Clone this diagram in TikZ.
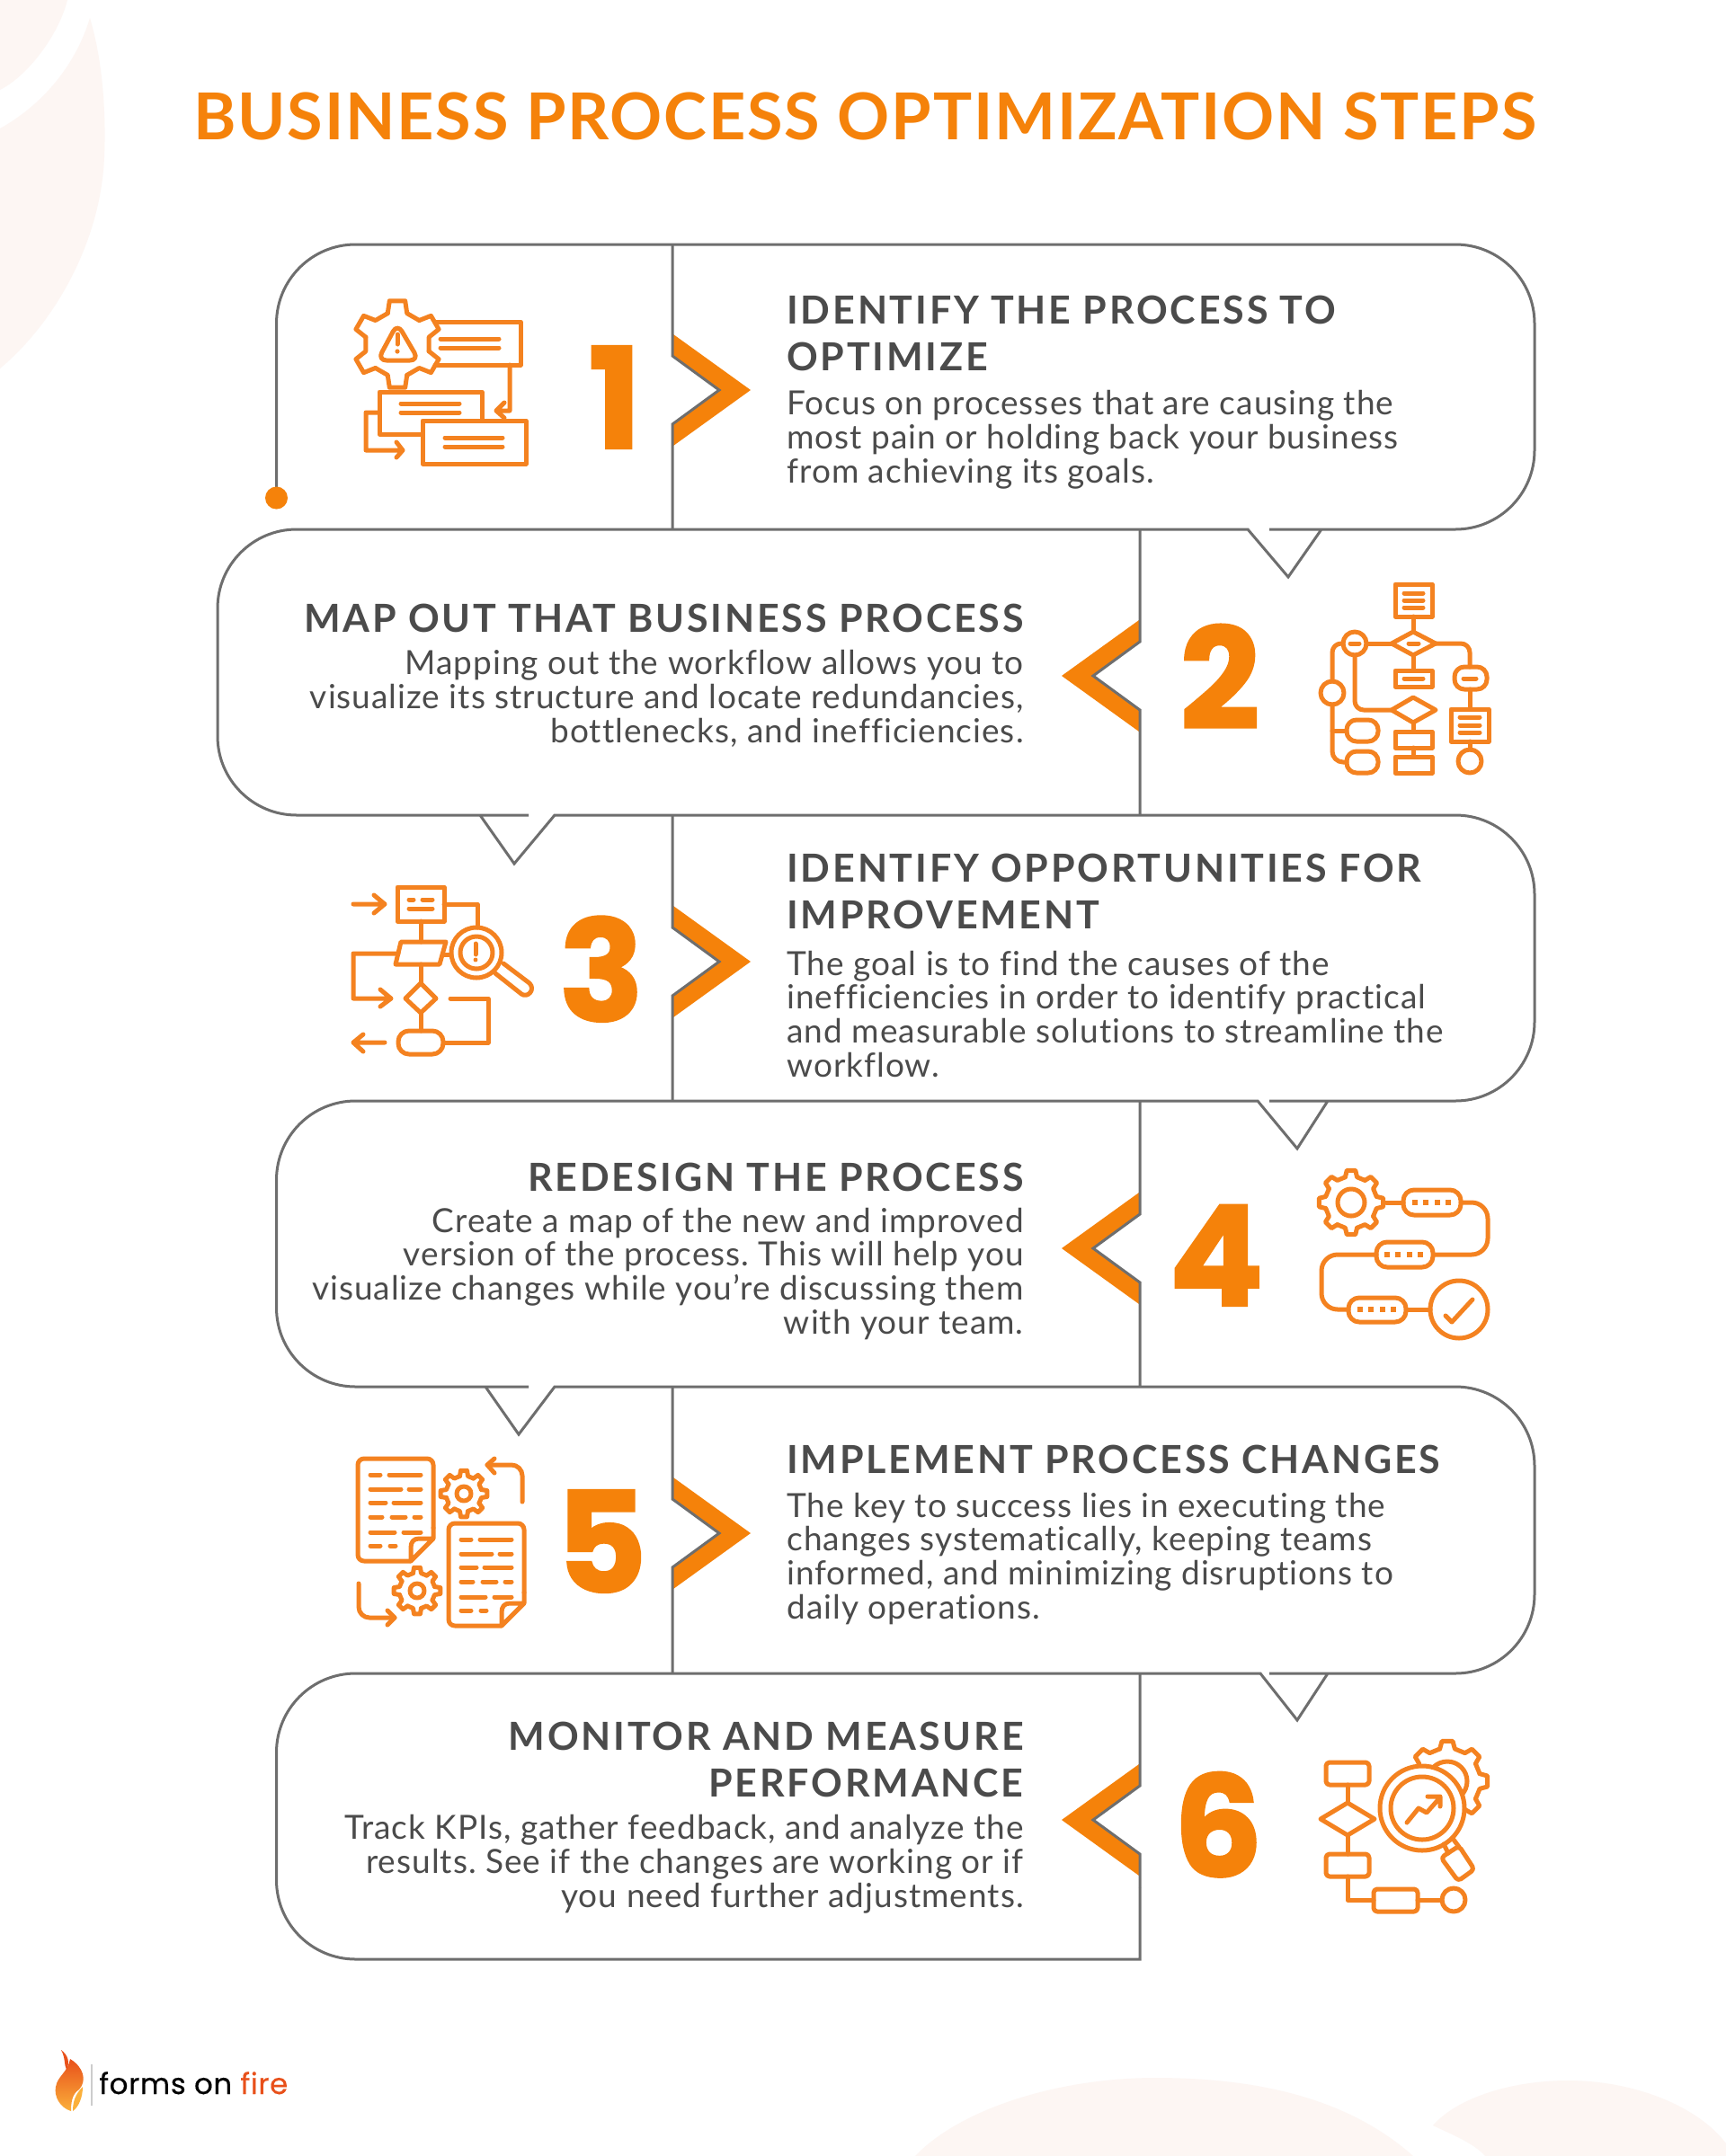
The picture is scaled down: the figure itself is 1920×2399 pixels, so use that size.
\documentclass[tikz,border=0pt]{standalone}
\usepackage{fontspec}
\setmainfont{Lato}
\newfontfamily\numfont[BoldFeatures={FakeBold=1.5}]{Poppins}
\newfontfamily\titlefont[LetterSpace=2.5]{Lato}
\newfontfamily\headfont[LetterSpace=6.5]{Lato}
\newfontfamily\bodyfont[LetterSpace=2.7,Ligatures=NoCommon]{Lato}
\newfontfamily\logofont[LetterSpace=2,FakeBold=.4]{Poppins}
\frenchspacing
\usetikzlibrary{calc}
\definecolor{LineClr}{HTML}{6E6E6E}
\definecolor{NumClr}{HTML}{F5820A}
\definecolor{IconClr}{HTML}{F48220}
\definecolor{TextClr}{HTML}{4B4B4B}
\definecolor{BlobClr}{HTML}{FDF6F3}
\definecolor{FlameRed}{HTML}{E8501A}
\definecolor{FlameGold}{HTML}{FBB03B}
\tikzset{
  icn/.style={draw=IconClr,line width=2.5pt,line join=round,line cap=round},
  titletext/.style={anchor=base west,inner sep=0pt,text=NumClr,font=\titlefont\bfseries\fontsize{36}{36}\selectfont},
  headL/.style={anchor=base west,align=left,inner sep=0pt,text=TextClr,font=\headfont\bfseries\fontsize{21.5}{26}\selectfont},
  headR/.style={anchor=base east,align=right,inner sep=0pt,text=TextClr,font=\headfont\bfseries\fontsize{21.5}{26}\selectfont},
  bodyL/.style={anchor=base west,align=left,inner sep=0pt,text=TextClr,font=\bodyfont\fontsize{18.5}{18.8}\selectfont},
  bodyR/.style={anchor=base east,align=right,inner sep=0pt,text=TextClr,font=\bodyfont\fontsize{18.5}{18.8}\selectfont},
  numtext/.style={anchor=base,inner sep=0pt,text=NumClr,font=\numfont\bfseries\fontsize{78}{78}\selectfont},
}
% chevrons, with the step's middle height as argument
\newcommand{\ChevRight}[1]{\fill[NumClr] (749,{#1-62}) -- (835,#1) -- (749,{#1+62}) -- (749,{#1+38}) -- (800,#1) -- (749,{#1-38}) -- cycle;}
\newcommand{\ChevLeft}[1]{\fill[NumClr] (1267,{#1-62}) -- (1181,#1) -- (1267,{#1+62}) -- (1267,{#1+38}) -- (1216,#1) -- (1267,{#1-38}) -- cycle;}
% centre x, centre y, outer radius, inner radius, teeth, start angle
\newcommand{\GearShape}[6]{%
  \foreach \i in {1,...,#5}{%
    \pgfmathsetmacro\angP{360/#5}
    \pgfmathsetmacro\angM{#6+\i*\angP}
    \pgfmathsetmacro\angA{\angM-.29*\angP}
    \pgfmathsetmacro\angB{\angM-.17*\angP}
    \pgfmathsetmacro\angC{\angM+.17*\angP}
    \pgfmathsetmacro\angD{\angM+.29*\angP}
    \pgfmathsetmacro\angE{\angM+.71*\angP}
    \draw[icn,shift={(#1,#2)}] (\angA:#4) -- (\angB:#3) -- (\angC:#3) -- (\angD:#4) -- (\angE:#4);
  }}
% four little squares on a line
\newcommand{\DotRow}[2]{\foreach \k in {0,1,2,3} \fill[IconClr] ({#1+12.3*\k-3},{#2-3}) rectangle ({#1+12.3*\k+3},{#2+3});}
% dog-eared page of icon 5, shifted from its first place
\newcommand{\PageDoc}[2]{%
  \begin{scope}[shift={(#1,#2)}]
    \draw[icn,rounded corners=3.5pt] (457,1737) -- (398,1737) -- (398,1623) -- (482,1623) -- (482,1700);
    \draw[icn] (482,1700) -- (482,1712) -- (457,1737) -- (457,1722) .. controls (457,1716) and (460,1712) .. (466,1712) -- (482,1712);
    \draw[icn] (412,1641) -- (423,1641) (433,1641) -- (468,1641);
    \draw[icn] (412,1657) -- (446,1657) (455,1657) -- (468,1657);
    \draw[icn] (412,1672) -- (429,1672) (438,1672) -- (468,1672);
    \draw[icn] (412,1688) -- (425,1688) (436,1688) -- (451,1688) (461,1688) -- (468,1688);
    \draw[icn] (412,1705) -- (439,1705) (449,1705) -- (468,1705);
    \draw[icn] (412,1720) -- (423,1720) (434,1720) -- (440,1720);
  \end{scope}}

\begin{document}
\begin{tikzpicture}[x=.5pt,y=-.5pt]
\useasboundingbox (0,0) rectangle (1920,2399);
\fill[white] (0,0) rectangle (1920,2399);

% background blobs
\fill[BlobClr] (0,0) -- (75,0) .. controls (65,40) and (30,85) .. (0,100) -- cycle;
\fill[BlobClr] (100,20) .. controls (115,70) and (118,130) .. (116,175) .. controls (112,270) and (60,360) .. (0,410) -- (0,143) .. controls (50,115) and (85,70) .. (100,20) -- cycle;
\fill[BlobClr] (1018,2399) .. controls (1070,2345) and (1180,2312) .. (1285,2312) .. controls (1400,2312) and (1500,2335) .. (1572,2399) -- cycle;
\fill[BlobClr] (1594,2365) .. controls (1620,2335) and (1680,2315) .. (1744,2315) .. controls (1820,2315) and (1890,2345) .. (1920,2385) -- (1920,2399) -- (1652,2399) .. controls (1640,2385) and (1615,2375) .. (1594,2365) -- cycle;

\node[titletext] (title) at (215,155) {BUSINESS PROCESS OPTIMIZATION STEPS};

% the line that runs through all six steps
\coordinate (start) at (307.5,554);
\draw[LineClr,line width=1.5pt,rounded corners=44pt] (start) -- (307.5,272) -- (1707,272) -- (1707,589) -- (1500,589)
  [sharp corners] -- (1470,589) -- (1433,642) -- (1388,589) -- (1300,589)
  [rounded corners=44pt] -- (242,589) -- (242,907) -- (500,907)
  [sharp corners] -- (534,907) -- (572,961) -- (617,907) -- (700,907)
  [rounded corners=44pt] -- (1707,907) -- (1707,1225) -- (1500,1225)
  [sharp corners] -- (1477,1225) -- (1443,1278) -- (1399,1225) -- (1300,1225)
  [rounded corners=44pt] -- (307.5,1225) -- (307.5,1543) -- (500,1543)
  [sharp corners] -- (540,1543) -- (577,1596) -- (617,1543) -- (700,1543)
  [rounded corners=44pt] -- (1707,1543) -- (1707,1862) -- (1500,1862)
  [sharp corners] -- (1477,1862) -- (1443,1914) -- (1402,1862) -- (1300,1862)
  [rounded corners=44pt] -- (307.5,1862) -- (307.5,2180) -- (800,2180) [sharp corners] -- (1268,2180) -- (1268,2100);
\fill[NumClr] (start) circle (12.5);

\ChevRight{434}
\ChevLeft{752}
\ChevRight{1070}
\ChevLeft{1389}
\ChevRight{1706}
\ChevLeft{2025}

% dividers, with the notch of each chevron
\draw[LineClr,line width=1.5pt] (748,272) -- (748,396) -- (800,434) -- (748,472) -- (748,589);
\draw[LineClr,line width=1.5pt] (1268,589) -- (1268,714) -- (1216,752) -- (1268,790) -- (1268,907);
\draw[LineClr,line width=1.5pt] (748,907) -- (748,1032) -- (800,1070) -- (748,1108) -- (748,1225);
\draw[LineClr,line width=1.5pt] (1268,1225) -- (1268,1351) -- (1216,1389) -- (1268,1427) -- (1268,1543);
\draw[LineClr,line width=1.5pt] (748,1543) -- (748,1668) -- (800,1706) -- (748,1744) -- (748,1862);
\draw[LineClr,line width=1.5pt] (1268,1862) -- (1268,1987) -- (1216,2025) -- (1268,2063) -- (1268,2100);

% numbers
\node[numtext] (n1) at (684,499) {1};
\node[numtext] (n2) at (1357,811) {2};
\node[numtext] (n3) at (669,1136) {3};
\node[numtext] (n4) at (1353,1453) {4};
\node[numtext] (n5) at (669,1772) {5};
\node[numtext] (n6) at (1355,2088) {6};

% texts
\node[headL] (h1) at (875,412) {IDENTIFY THE PROCESS TO\\OPTIMIZE};
\node[bodyL] (b1) at (875,537) {Focus on processes that are causing the\\most pain or holding back your business\\from achieving its goals.};
\node[headR] (h2) at (1139,703) {MAP OUT THAT BUSINESS PROCESS};
\node[bodyR] (b2) at (1139,826) {Mapping out the workflow allows you to\\visualize its structure and locate redundancies,\\bottlenecks, and inefficiencies.};
\node[headL] (h3) at (875,1033) {IDENTIFY OPPORTUNITIES FOR\\IMPROVEMENT};
\node[bodyL] (b3) at (875,1198) {The goal is to find the causes of the\\inefficiencies in order to identify practical\\and measurable solutions to streamline the\\workflow.};
\node[headR] (h4) at (1139,1325) {REDESIGN THE PROCESS};
\node[bodyR] (b4) at (1139,1484) {Create a map of the new and improved\\version of the process. This will help you\\visualize changes while you’re discussing them\\with your team.};
\node[headL] (h5) at (875,1639) {IMPLEMENT PROCESS CHANGES};
\node[bodyL] (b5) at (875,1801) {The key to success lies in executing the\\changes systematically, keeping teams\\informed, and minimizing disruptions to\\daily operations.};
\node[headR] (h6) at (1139,1999) {MONITOR AND MEASURE\\PERFORMANCE};
\node[bodyR] (b6) at (1139,2122) {Track KPIs, gather feedback, and analyze the\\results. See if the changes are working or if\\you need further adjustments.};

% icon 1
\GearShape{442}{383}{49}{36}{6}{90}
\draw[icn,rounded corners=5pt] (420,401) -- (466,401) -- (442,360) -- cycle;
\draw[icn] (442,372) -- (442,383);
\fill[IconClr] (442,391) circle (2.6);
\draw[icn] (484,358) -- (579,358) -- (579,406) -- (484,406);
\draw[icn] (490,377) -- (555,377) (490,387) -- (555,387);
\draw[icn] (567,406) -- (567,457) -- (552,457) (561,448) -- (552,457) -- (561,465);
\draw[icn] (469,483) -- (422,483) -- (422,436) -- (536,436) -- (536,467);
\draw[icn] (446,449) -- (511,449) (446,459) -- (511,459);
\draw[icn] (470,468) rectangle (585,516);
\draw[icn] (495,487) -- (559,487) (495,497) -- (559,497);
\draw[icn] (422,459) -- (407,459) -- (407,501) -- (448,501) (441,492) -- (448,501) -- (441,509);

% icon 2
\draw[icn] (1552,650) rectangle (1593,686);
\draw[icn] (1562,660) -- (1583,660) (1562,668) -- (1583,668) (1562,676) -- (1583,676);
\draw[icn] (1572,686) -- (1572,703);
\draw[icn] (1548,716) -- (1572,703) -- (1597,716) -- (1572,729) -- cycle;
\draw[icn] (1567,716) -- (1578,716);
\draw[icn] (1507,716) circle (13);
\draw[icn] (1502,716) -- (1512,716);
\draw[icn] (1520,716) -- (1548,716);
\draw[icn,rounded corners=5pt] (1494,716) -- (1482,716) -- (1482,758);
\draw[icn] (1482,771) circle (13);
\draw[icn,rounded corners=6pt] (1482,784) -- (1482,848) -- (1498,848);
\draw[icn] (1482,813) -- (1498,813);
\draw[icn,rounded corners=5.5pt] (1498,801) rectangle (1533,825);
\draw[icn,rounded corners=5.5pt] (1498,836) rectangle (1533,860);
\draw[icn,rounded corners=5pt] (1507,729) -- (1507,790) -- (1548,790);
\draw[icn] (1548,790) -- (1572,776) -- (1597,790) -- (1572,804) -- cycle;
\draw[icn] (1572,729) -- (1572,746);
\draw[icn] (1552,746) rectangle (1593,764);
\draw[icn] (1562,755) -- (1583,755);
\draw[icn] (1572,804) -- (1572,814);
\draw[icn] (1552,814) rectangle (1593,832);
\draw[icn] (1572,832) -- (1572,842);
\draw[icn] (1552,842) rectangle (1593,860);
\draw[icn,rounded corners=5pt] (1597,716) -- (1635,716) -- (1635,742);
\draw[icn,rounded corners=5.5pt] (1618,742) rectangle (1654,767);
\draw[icn] (1628,755) -- (1642,755);
\draw[icn] (1635,767) -- (1635,789);
\draw[icn] (1614,789) rectangle (1656,825);
\draw[icn] (1624,798) -- (1646,798) (1624,807) -- (1646,807) (1624,815) -- (1646,815);
\draw[icn] (1635,825) -- (1635,834);
\draw[icn] (1635,847) circle (13);

% icon 3
\draw[icn] (393,1006) -- (428,1006) (416,996) -- (428,1006) -- (416,1016);
\draw[icn] (442,987) rectangle (494,1025);
\draw[icn] (455,1001) -- (460,1001) (470,1001) -- (481,1001) (455,1011) -- (481,1011);
\draw[icn] (494,1006) -- (531,1006) -- (531,1032);
\draw[icn] (468,1025) -- (468,1048);
\draw[icn] (446,1048) -- (496,1048) -- (489,1073) -- (440,1073) -- cycle;
\draw[icn] (443,1061) -- (393,1061) -- (393,1111) -- (435,1111) (423,1101) -- (435,1111) -- (423,1120);
\draw[icn] (493,1062) -- (502,1062);
\draw[icn] (530,1060) circle (28);
\draw[icn] (530,1060) circle (18);
\draw[icn] (529,1050) -- (529,1062);
\fill[IconClr] (529,1068) circle (2.4);
\draw[icn] (551,1083) -- (580,1106) .. controls (587,1111) and (596,1101) .. (589,1094) -- (560,1072);
\draw[icn] (468,1073) -- (468,1094);
\draw[icn] (468,1094) -- (485,1111) -- (468,1127) -- (451,1111) -- cycle;
\draw[icn] (468,1127) -- (468,1147);
\draw[icn,rounded corners=6pt] (443,1147) rectangle (493,1173);
\draw[icn] (493,1160) -- (543,1160) -- (543,1111) -- (501,1111);
\draw[icn] (428,1160) -- (393,1160) (404,1151) -- (393,1160) -- (404,1170);

% icon 4
\GearShape{1503}{1338}{36}{29}{8}{90}
\draw[icn] (1503,1338) circle (15);
\draw[icn] (1542,1338) -- (1561,1338);
\draw[icn,rounded corners=6pt] (1561,1324) rectangle (1625,1352);
\DotRow{1574}{1338}
\draw[icn,rounded corners=9pt] (1625,1338) -- (1655,1338) -- (1655,1396) -- (1595,1396);
\draw[icn,rounded corners=6pt] (1531,1382) rectangle (1594,1410);
\DotRow{1543}{1396}
\draw[icn,rounded corners=9pt] (1531,1396) -- (1470,1396) -- (1470,1457) -- (1500,1457);
\draw[icn,rounded corners=6pt] (1500,1444) rectangle (1564,1471);
\DotRow{1513}{1457}
\draw[icn] (1564,1457) -- (1591,1457);
\draw[icn] (1623,1457) circle (32);
\draw[icn] (1608,1464) -- (1615,1471) -- (1638,1446);

% icon 5
\PageDoc{0}{0}
\PageDoc{101}{72}
\GearShape{516}{1662}{26}{20}{8}{90}
\draw[icn] (516,1662) circle (8);
\GearShape{464}{1770}{26}{20}{8}{90}
\draw[icn] (464,1770) circle (8);
\draw[icn,rounded corners=6pt] (581,1671) -- (581,1630) -- (542,1630);
\draw[icn] (550,1623) -- (542,1630) -- (550,1639);
\draw[icn,rounded corners=6pt] (399,1762) -- (399,1800) -- (439,1800);
\draw[icn] (431,1792) -- (439,1800) -- (431,1808);

% icon 6
\GearShape{1610}{1982}{45}{37}{8}{90}
\draw[icn] (1610,1982) circle (22);
\draw[icn,fill=white] (1582,2012) circle (47);
\draw[icn] (1582,2012) circle (35);
\draw[icn] (1565,2028) -- (1578,2012) -- (1587,2017) -- (1602,2000) (1588,1999) -- (1602,1999) -- (1602,2010);
\draw[icn] (1606,2052) -- (1611,2062) (1617,2047) -- (1623,2055);
\draw[icn,rounded corners=2pt] (1603,2067) -- (1623,2054) -- (1640,2080) -- (1622,2093) -- cycle;
\draw[icn,rounded corners=2pt] (1475,1961) rectangle (1523,1986);
\draw[icn] (1499,1986) -- (1499,2006);
\draw[icn] (1469,2024) -- (1499,2006) -- (1529,2024) -- (1499,2042) -- cycle;
\draw[icn] (1499,2042) -- (1499,2063);
\draw[icn,rounded corners=2pt] (1475,2063) rectangle (1523,2088);
\draw[icn] (1499,2088) -- (1499,2114) -- (1528,2114);
\draw[icn,rounded corners=2pt] (1528,2102) rectangle (1577,2127);
\draw[icn] (1577,2114) -- (1604,2114);
\draw[icn] (1617,2114) circle (13);

% logo
\shade[top color=FlameRed,bottom color=FlameGold] (78,2291) .. controls (93,2300) and (97,2315) .. (88,2325) .. controls (80,2330) and (79,2340) .. (79,2349) .. controls (66,2345) and (60,2332) .. (62,2322) .. controls (64,2310) and (76,2305) .. (78,2291) -- cycle;
\fill[FlameRed] (68,2281) .. controls (76,2287) and (78,2295) .. (74,2303) .. controls (71,2297) and (73,2290) .. (68,2281) -- cycle;
\fill[FlameGold] (92,2322) .. controls (92,2333) and (88,2344) .. (81,2349) .. controls (81,2338) and (84,2330) .. (92,2322) -- cycle;
\draw[gray!40,line width=.6pt] (102,2297) -- (102,2343);
\node[anchor=base west,inner sep=0pt,font=\logofont\fontsize{16.2}{16.2}\selectfont] (logo) at (110,2330) {forms on \textcolor{FlameRed}{fire}};
\end{tikzpicture}
\end{document}
